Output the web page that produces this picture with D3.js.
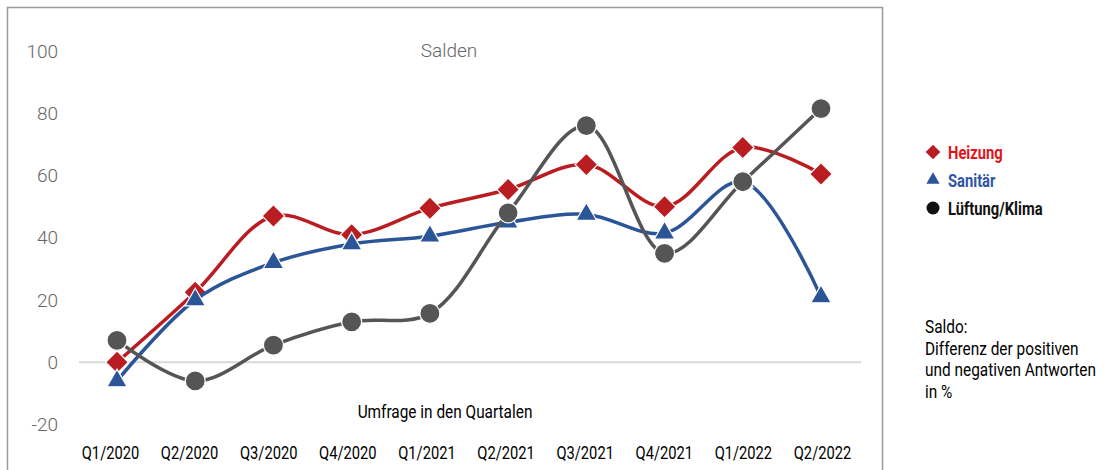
<!DOCTYPE html>
<html>
<head>
<meta charset="utf-8">
<script src="https://cdn.jsdelivr.net/npm/d3@7"></script>
<style>
  body { margin: 0; background: #fff; }
  text { font-family: Roboto, "Noto Sans", sans-serif; }
</style>
</head>
<body>
<div class="chart"></div>
<script>
//size of the svg
var widthSVG = 1105;
var heightSVG = 470;

//categories and series values
var quartale = ["Q1/2020","Q2/2020","Q3/2020","Q4/2020","Q1/2021","Q2/2021","Q3/2021","Q4/2021","Q1/2022","Q2/2022"];
var heizung  = [0, 22.5, 47, 41, 49.5, 55.5, 63.5, 50, 69, 60.5];
var sanitaer = [-6, 20, 32, 38, 40.5, 45, 47.5, 41.5, 58, 21];
var lueftung = [7, -6, 5.5, 13, 15.7, 48, 76, 35, 58, 81.5];
var yTicks = [-20, 0, 20, 40, 60, 80, 100];
var namen = ["Heizung", "Sanitär", "Lüftung/Klima"];
var notiz = ["Saldo:", "Differenz der positiven", "und negativen Antworten", "in %"];

var serien = [
  {name: namen[0], values: heizung, color: "#b91d22", text: "#e3141b", shape: "diamond"},
  {name: namen[1], values: sanitaer, color: "#2b5597", text: "#2f56a6", shape: "triangle"},
  {name: namen[2], values: lueftung, color: "#555555", text: "#111111", shape: "circle"}
];

var svg = d3.select(".chart").append("svg")
  .attr("width", widthSVG)
  .attr("height", heightSVG);

//frame around the chart area
svg.append("path")
  .attr("d", "M7.5," + heightSVG + " V7.5 H882.5 V" + heightSVG)
  .attr("fill", "none")
  .attr("stroke", "#9a9a9a")
  .attr("stroke-width", 1.5);

//scales
var xScale = d3.scalePoint().domain(quartale).range([117, 821]);
var xLabel = d3.scalePoint().domain(quartale).range([110, 822]);
var yScale = d3.scaleLinear().domain([-20, 100]).range([424.5, 51]);

//zero line
svg.append("line")
  .attr("x1", 79).attr("x2", 861)
  .attr("y1", yScale(0)).attr("y2", yScale(0))
  .attr("stroke", "#d9d9d9")
  .attr("stroke-width", 2);

//y axis (labels only) - plain hyphen as in the original
var yAxis = d3.axisLeft(yScale).tickValues(yTicks).tickSize(0).tickPadding(0)
  .tickFormat(function(d) { return String(d); });
var gy = svg.append("g")
  .attr("transform", "translate(58,0)")
  .call(yAxis);
gy.select(".domain").remove();
gy.selectAll("text")
  .attr("fill", "#666")
  .style("font-size", "19px")
  .style("font-weight", 300)
  .style("font-family", "Roboto, sans-serif");

//x axis (labels only)
var xAxis = d3.axisBottom(xLabel).tickSize(0).tickPadding(0);
var gx = svg.append("g")
  .attr("transform", "translate(0,446)")
  .call(xAxis);
gx.select(".domain").remove();
gx.selectAll("text")
  .attr("fill", "#000")
  .attr("dy", 0)
  .attr("y", 0)
  .attr("transform", "translate(0,13) scale(0.84,1)")
  .style("font-size", "17.5px")
  .style("font-family", "Roboto, sans-serif");

//title
svg.append("text")
  .attr("x", 449).attr("y", 57)
  .attr("text-anchor", "middle")
  .attr("fill", "#666")
  .style("font-size", "19px")
  .style("font-weight", 300)
  .text("Salden");

//x axis title
svg.append("text")
  .attr("transform", "translate(445,418) scale(0.88,1)")
  .attr("text-anchor", "middle")
  .attr("fill", "#000")
  .style("font-size", "17.5px")
  .text("Umfrage in den Quartalen");

//smooth lines
var line = d3.line()
  .x(function(d, i) { return xScale(quartale[i]); })
  .y(function(d) { return yScale(d); })
  .curve(d3.curveCatmullRom.alpha(0.5));

function marker(sel, shape, scale) {
  if (shape === "diamond") {
    sel.attr("d", d3.symbol().type(d3.symbolSquare).size(256 * scale * scale)())
      .attr("transform", function() { return d3.select(this).attr("transform") + " rotate(45)"; });
  } else if (shape === "triangle") {
    sel.attr("d", d3.symbol().type(d3.symbolTriangle2).size(300 * scale * scale)());
  } else {
    sel.attr("d", d3.symbol().type(d3.symbolCircle).size(Math.PI * 100 * scale * scale)());
  }
}

serien.forEach(function(s) {
  var g = svg.append("g");
  g.append("path")
    .datum(s.values)
    .attr("d", line)
    .attr("fill", "none")
    .attr("stroke", s.color)
    .attr("stroke-width", 3.5);

  g.selectAll(".pt").data(s.values).enter()
    .append("path")
    .attr("class", "pt")
    .attr("transform", function(d, i) { return "translate(" + xScale(quartale[i]) + "," + yScale(d) + ")"; })
    .attr("fill", s.color)
    .attr("stroke", "#fff")
    .attr("stroke-width", 1.2)
    .each(function() { marker(d3.select(this), s.shape, 1); });
});

//legend
var legende = svg.append("g")
  .attr("transform", "translate(933,152)")
  .selectAll(".legende").data(serien).enter()
  .append("g")
  .attr("class", "legende")
  .attr("transform", function(d, i) { return "translate(0," + i * 28 + ")"; });

legende.append("path")
  .attr("transform", "translate(0,0)")
  .attr("fill", function(d) { return d.shape === "circle" ? "#111" : d.color; })
  .each(function(d) { marker(d3.select(this), d.shape, 0.65); });

legende.append("text")
  .attr("transform", "translate(15,6.5) scale(0.82,1)")
  .attr("fill", function(d) { return d.text; })
  .style("font-size", "18px")
  .style("font-weight", 700)
  .text(function(d) { return d.name; });

//note on the right
svg.append("g").selectAll("text").data(notiz).enter()
  .append("text")
  .attr("transform", function(d, i) { return "translate(925," + (333 + i * 21.7) + ") scale(0.88,1)"; })
  .attr("fill", "#000")
  .style("font-size", "17.5px")
  .text(function(d) { return d; });
</script>
</body>
</html>
